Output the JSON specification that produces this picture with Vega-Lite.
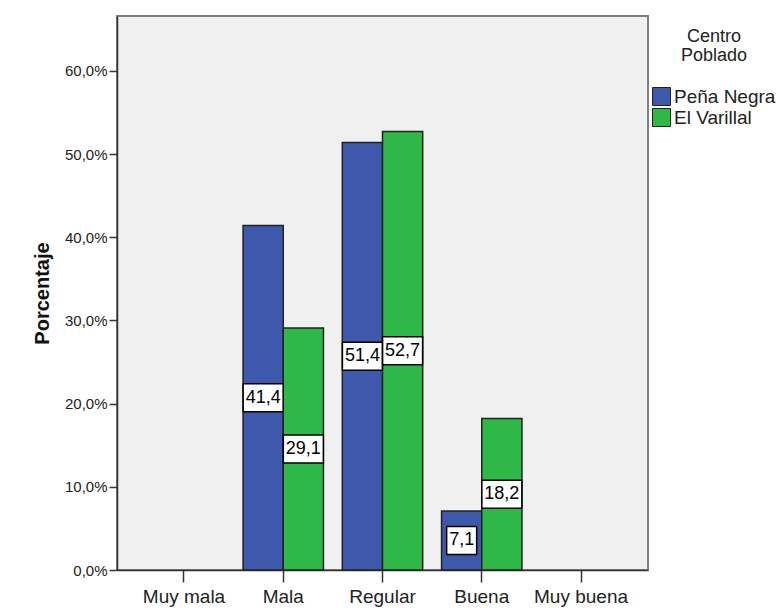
{
  "$schema": "https://vega.github.io/schema/vega-lite/v6.json",
  "autosize": {"type": "none"},
  "padding": {"left": 117, "top": 16, "right": 129, "bottom": 42},
  "width": 531,
  "height": 554,
  "background": "white",
  "config": {
    "locale": {"number": {"decimal": ",", "thousands": ".", "grouping": [3], "currency": ["", " €"]}},
    "view": {"fill": "#F0F0F0", "stroke": "#808080", "strokeWidth": 2},
    "font": "Liberation Sans",
    "axis": {"grid": false, "domainColor": "#333333", "tickColor": "#333333", "labelColor": "#222222", "titleColor": "#111111", "domainWidth": 1.5, "tickWidth": 1.5}
  },
  "data": {
    "values": [
      {"calidad": "Mala", "centro": "Peña Negra", "pct": 41.4},
      {"calidad": "Mala", "centro": "El Varillal", "pct": 29.1},
      {"calidad": "Regular", "centro": "Peña Negra", "pct": 51.4},
      {"calidad": "Regular", "centro": "El Varillal", "pct": 52.7},
      {"calidad": "Buena", "centro": "Peña Negra", "pct": 7.1},
      {"calidad": "Buena", "centro": "El Varillal", "pct": 18.2}
    ]
  },
  "encoding": {
    "x": {
      "field": "calidad",
      "type": "nominal",
      "scale": {"domain": ["Muy mala", "Mala", "Regular", "Buena", "Muy buena"], "paddingInner": 0.19, "paddingOuter": 0.27},
      "axis": {"title": null, "labelFontSize": 19, "labelAngle": 0, "tickSize": 12, "labelPadding": 5}
    },
    "xOffset": {
      "field": "centro",
      "type": "nominal",
      "scale": {"domain": ["Peña Negra", "El Varillal"], "paddingInner": 0, "paddingOuter": 0}
    }
  },
  "layer": [
    {
      "mark": {"type": "bar", "stroke": "#222222", "strokeWidth": 1.5},
      "encoding": {
        "y": {
          "field": "pct",
          "type": "quantitative",
          "scale": {"domain": [0, 66.6], "nice": false, "zero": true},
          "axis": {
            "title": "Porcentaje",
            "titleFontSize": 20,
            "titleFontWeight": "bold",
            "titlePadding": 12,
            "labelFontSize": 15,
            "tickSize": 8,
            "labelPadding": 2,
            "values": [0, 10, 20, 30, 40, 50, 60],
            "labelExpr": "replace(format(datum.value, '.1f'), '.', ',') + '%'"
          }
        },
        "color": {
          "field": "centro",
          "type": "nominal",
          "scale": {"domain": ["Peña Negra", "El Varillal"], "range": ["#3E58AC", "#2EB848"]},
          "legend": {
            "title": ["Centro", "Poblado"],
            "orient": "none",
            "legendX": 535,
            "legendY": 12,
            "titleFontSize": 18,
            "titleFontWeight": "normal",
            "titleColor": "#222222",
            "titleAnchor": "middle",
            "titleAlign": "center",
            "titlePadding": 22,
            "titleLineHeight": 19,
            "labelFontSize": 19,
            "labelColor": "#222222",
            "symbolType": "square",
            "symbolSize": 324,
            "symbolStrokeColor": "#222222",
            "symbolStrokeWidth": 1,
            "symbolOpacity": 1,
            "labelOffset": 3,
            "rowPadding": -5
          }
        }
      }
    },
    {
      "transform": [{"calculate": "datum.pct / 2", "as": "mid"}],
      "mark": {"type": "point", "filled": true, "fill": "white", "stroke": "black", "strokeWidth": 1.5, "opacity": 1, "fillOpacity": 1, "strokeOpacity": 1},
      "encoding": {
        "y": {"field": "mid", "type": "quantitative", "title": "Porcentaje"},
        "shape": {"condition": {"test": "datum.pct < 10", "value": "M-1,-0.933L1,-0.933L1,0.933L-1,0.933Z"}, "value": "M-1,-0.7L1,-0.7L1,0.7L-1,0.7Z"},
        "size": {"condition": {"test": "datum.pct < 10", "value": 900}, "value": 1600}
      }
    },
    {
      "transform": [{"calculate": "datum.pct / 2", "as": "mid"}],
      "mark": {"type": "text", "fontSize": 18, "color": "black", "align": "center", "baseline": "middle"},
      "encoding": {
        "y": {"field": "mid", "type": "quantitative", "title": "Porcentaje"},
        "text": {"field": "pct", "type": "quantitative", "format": ".1f"}
      }
    }
  ]
}
